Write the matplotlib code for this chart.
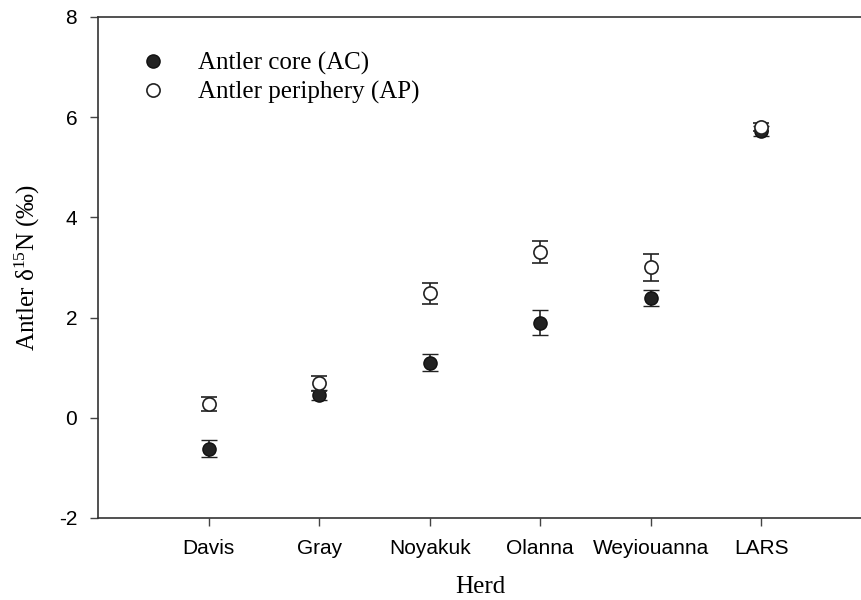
import matplotlib
matplotlib.use('Agg')
import matplotlib.pyplot as plt
import numpy as np

# herds and antler d15N values (mean +/- SE)
herds = ['Davis', 'Gray', 'Noyakuk', 'Olanna', 'Weyiouanna', 'LARS']
core_mean = [-0.62, 0.46, 1.10, 1.90, 2.40, 5.72]
core_err = [0.17, 0.10, 0.17, 0.25, 0.16, 0.10]
peri_mean = [0.28, 0.69, 2.49, 3.30, 3.00, 5.80]
peri_err = [0.14, 0.15, 0.21, 0.22, 0.27, 0.08]

plt.rcParams['mathtext.fontset'] = 'stix'
serif = 'Liberation Serif'
sans = 'Liberation Sans'

fig = plt.figure(figsize=(8.62, 6.0), dpi=100)
ax = fig.add_axes([0.1137, 0.1367, 0.8863, 0.835])

x = np.arange(1, len(herds) + 1)

ax.errorbar(x, core_mean, yerr=core_err, fmt='o', ms=9.5, mfc='#222222',
            mec='#111111', mew=1.0, ecolor='#222222', elinewidth=1.2,
            capsize=6, capthick=1.2, label='Antler core (AC)', zorder=3)
ax.errorbar(x, peri_mean, yerr=peri_err, fmt='o', ms=9.5, mfc='white',
            mec='#222222', mew=1.2, ecolor='#222222', elinewidth=1.2,
            capsize=6, capthick=1.2, label='Antler periphery (AP)', zorder=4)

ax.set_xlim(0, 6.91)
ax.set_ylim(-2, 8)
ax.set_xticks(x)
ax.set_xticklabels(herds, fontfamily=sans, fontsize=15)
ax.set_yticks([-2, 0, 2, 4, 6, 8])
ax.set_yticklabels(['-2', '0', '2', '4', '6', '8'], fontfamily=sans, fontsize=15)
ax.tick_params(direction='out', length=6, width=1, color='#444444', pad=9)

for side in ['left', 'bottom', 'top']:
    ax.spines[side].set_color('#333333')
    ax.spines[side].set_linewidth(1.2)
ax.spines['right'].set_visible(False)

ax.set_xlabel('Herd', fontfamily=serif, fontsize=18, labelpad=13)
ax.set_ylabel(r'Antler $\mathregular{\delta^{15}}$N (‰)', fontfamily=serif,
              fontsize=18, labelpad=12)

handles, labels = ax.get_legend_handles_labels()
handles = [h[0] for h in handles]
leg = ax.legend(handles, labels, loc='upper left', bbox_to_anchor=(0.026, 0.975),
                frameon=False, handletextpad=1.3, labelspacing=0.22,
                prop={'family': serif, 'size': 18}, handlelength=1.0)

fig.savefig('out.png', dpi=100)
